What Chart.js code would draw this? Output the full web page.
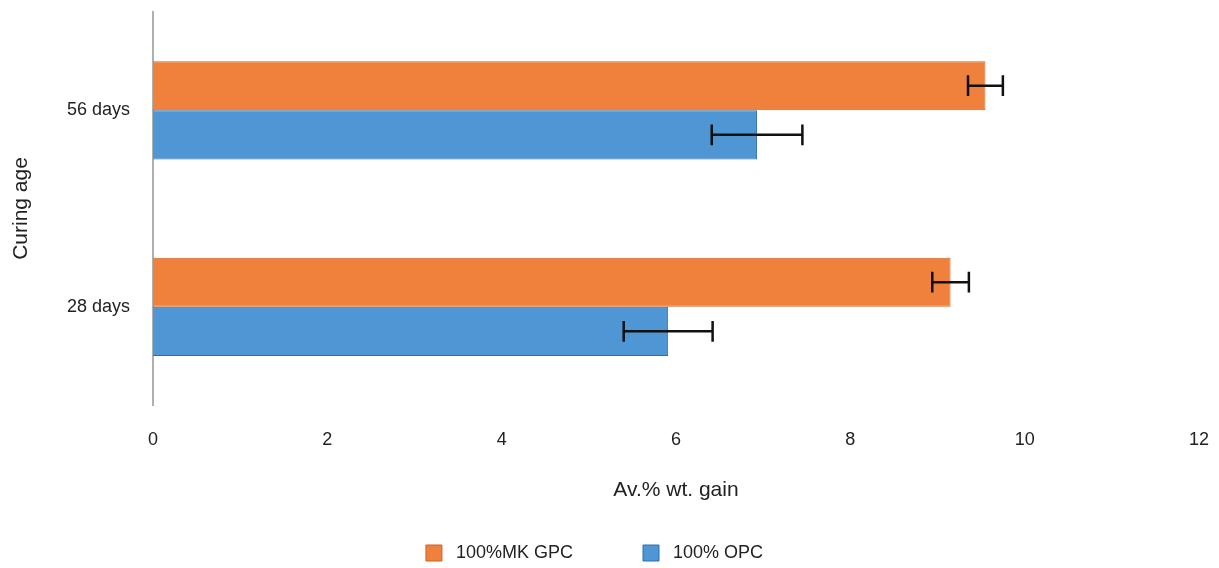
<!DOCTYPE html>
<html>
<head>
<meta charset="utf-8">
<script src="https://cdn.jsdelivr.net/npm/chart.js@4/dist/chart.umd.min.js"></script>
<style>
  html, body { margin: 0; padding: 0; background: #fff; }
  #wrap { width: 1219px; height: 568px; }
</style>
</head>
<body>
<div id="wrap"><canvas id="grafico" width="1219" height="568"></canvas></div>
<script>
// datos
var categorias = ['56 days', '28 days'];
var gpcValores = [9.55, 9.15];
var gpcError = [0.2, 0.21];
var opcValores = [6.93, 5.91];
var opcError = [0.52, 0.51];
var xTicks = [0, 2, 4, 6, 8, 10, 12];

var fuente = '"Liberation Sans", Arial, sans-serif';

/* Barras de error dibujadas con las escalas del gráfico */
var barrasError = {
  id: 'barrasError',
  afterDatasetsDraw: function(chart) {
    var ctx = chart.ctx;
    var xs = chart.scales.x;
    ctx.save();
    ctx.strokeStyle = '#111';
    ctx.lineWidth = 2.5;
    chart.data.datasets.forEach(function(ds, d) {
      var meta = chart.getDatasetMeta(d);
      meta.data.forEach(function(bar, i) {
        var v = ds.data[i], e = ds.errores[i];
        var x1 = xs.getPixelForValue(v - e);
        var x2 = xs.getPixelForValue(v + e);
        var y = bar.y;
        var cap = bar.height * 0.21;
        ctx.beginPath();
        ctx.moveTo(x1, y); ctx.lineTo(x2, y);
        ctx.moveTo(x1, y - cap); ctx.lineTo(x1, y + cap);
        ctx.moveTo(x2, y - cap); ctx.lineTo(x2, y + cap);
        ctx.stroke();
      });
    });
    ctx.restore();
  }
};

var chart = new Chart(document.getElementById('grafico'), {
  type: 'bar',
  data: {
    labels: categorias,
    datasets: [{
      label: ' 100%MK GPC            ',
      data: gpcValores,
      errores: gpcError,
      backgroundColor: '#F0813C',
      borderColor: '#C9622A',
      borderWidth: 1,
      categoryPercentage: 0.5,
      barPercentage: 1
    }, {
      label: ' 100% OPC  ',
      data: opcValores,
      errores: opcError,
      backgroundColor: '#4E96D4',
      borderColor: '#2F6FA8',
      borderWidth: 1,
      categoryPercentage: 0.5,
      barPercentage: 1
    }]
  },
  options: {
    indexAxis: 'y',
    responsive: false,
    animation: false,
    layout: { padding: { top: 12, right: 20, left: 0, bottom: -4 } },
    scales: {
      x: {
        min: 0,
        max: 12,
        afterBuildTicks: function(axis) {
          axis.ticks = xTicks.map(function(v) { return { value: v }; });
        },
        afterFit: function(axis) {
          axis.height = 129;
          axis.paddingLeft = 0;
          axis.paddingRight = 0;
        },
        grid: { display: false, drawTicks: false },
        border: { display: false },
        ticks: { padding: 24, color: '#222', font: { family: fuente, size: 18 } },
        title: {
          display: true,
          text: 'Av.% wt. gain',
          color: '#222',
          font: { family: fuente, size: 21 },
          padding: { top: 0, bottom: 31 }
        }
      },
      y: {
        afterFit: function(axis) {
          axis.width = 153;
          axis.paddingTop = 0;
          axis.paddingBottom = 0;
        },
        grid: { display: false, drawTicks: false },
        border: { display: true, color: '#b0b0b0', width: 2 },
        ticks: { padding: 23, color: '#222', font: { family: fuente, size: 18 } },
        title: {
          display: true,
          text: 'Curing age',
          color: '#222',
          font: { family: fuente, size: 21 },
          padding: { top: 9, bottom: 0 }
        }
      }
    },
    plugins: {
      tooltip: { enabled: false },
      legend: {
        position: 'bottom',
        labels: {
          boxWidth: 16,
          boxHeight: 16,
          padding: 10,
          color: '#222',
          font: { family: fuente, size: 18 }
        }
      }
    }
  },
  plugins: [barrasError]
});
</script>
</body>
</html>
